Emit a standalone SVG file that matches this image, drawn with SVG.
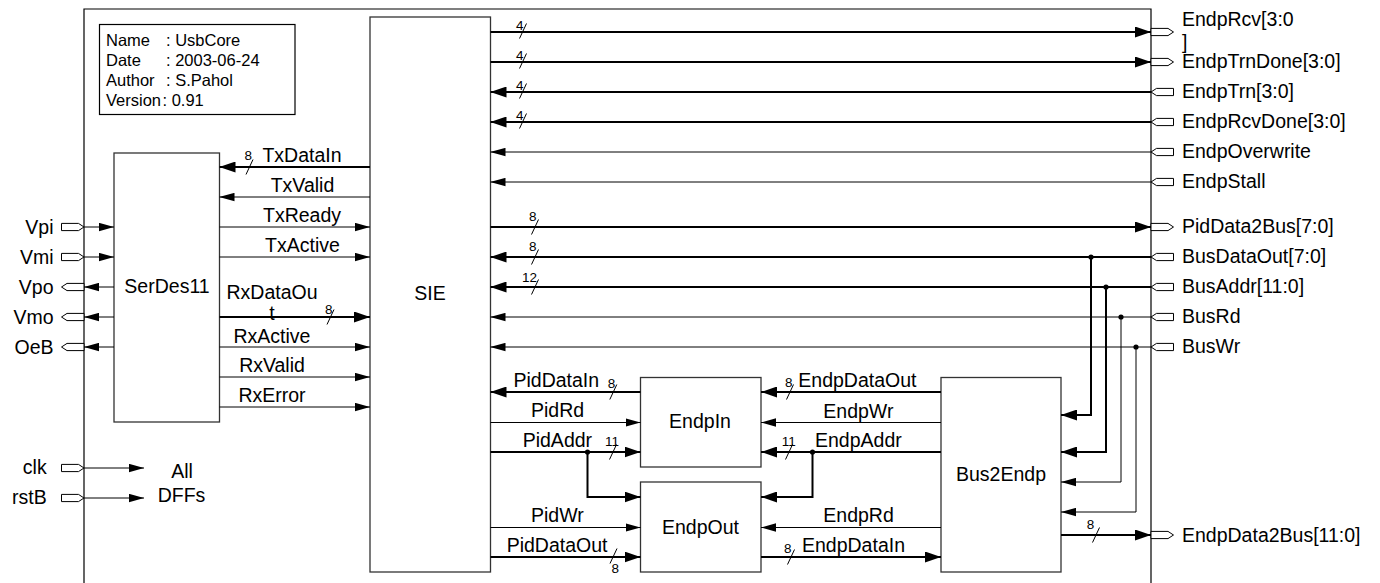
<svg xmlns="http://www.w3.org/2000/svg" width="1380" height="583" viewBox="0 0 1380 583">
<defs>
<marker id="ab" markerUnits="userSpaceOnUse" markerWidth="16" markerHeight="11" refX="16" refY="5.5" orient="auto"><path d="M0,0 L16,5.5 L0,11 Z" fill="#000"/></marker>
<marker id="as" markerUnits="userSpaceOnUse" markerWidth="15" markerHeight="9" refX="15" refY="4.5" orient="auto"><path d="M0,0.3 L15,4.5 L0,8.7 Z" fill="#000"/></marker>
<path id="pout" d="M0,-3.6 H17 L22.5,0 L17,3.6 H0 Z"/>
<path id="pin" d="M0,0 L5.5,-3.6 H22.5 V3.6 H5.5 Z"/>
<path id="sl" d="M-3.5,7.5 L3.5,-7.5"/>
</defs>
<style>
text{font-family:"Liberation Sans",Arial,sans-serif;font-size:19.5px;fill:#000}
.info text{font-size:16.5px}
text.n{font-size:13.5px}
.c{text-anchor:middle}
.e{text-anchor:end}
.box{fill:#fff;stroke:#333;stroke-width:1.3}
.bus{fill:none;stroke:#000;stroke-width:2}
.sig{fill:none;stroke:#000;stroke-width:1}
.ab{marker-end:url(#ab)}
.as{marker-end:url(#as)}
.port{fill:#fff;stroke:#000;stroke-width:1}
.sl{stroke:#000;stroke-width:1;fill:none}
.dot{fill:#000}
</style>
<rect width="1380" height="583" fill="#fff"/>

<g id="frame"><path d="M84,590 V9 H1151 V590" fill="none" stroke="#000" stroke-width="1.2"/></g>

<g id="info" class="info">
<rect x="99.5" y="24.5" width="195.5" height="90" fill="#fff" stroke="#000" stroke-width="1.2"/>
<text x="106" y="45.5">Name</text><text x="166" y="45.5">: UsbCore</text>
<text x="106" y="65.5">Date</text><text x="166" y="65.5">: 2003-06-24</text>
<text x="106" y="85.5">Author</text><text x="166" y="85.5">: S.Pahol</text>
<text x="106" y="105.5">Version</text><text x="162.5" y="105.5">: 0.91</text>
</g>

<g id="SerDes11"><rect class="box" x="114" y="153" width="105.5" height="269"/><text class="c" x="167" y="293">SerDes11</text></g>
<g id="SIE"><rect class="box" x="370" y="17" width="120.5" height="555"/><text class="c" x="430" y="300">SIE</text></g>
<g id="EndpIn"><rect class="box" x="640.5" y="377.5" width="120.5" height="89.5"/><text class="c" x="700" y="427.5">EndpIn</text></g>
<g id="EndpOut"><rect class="box" x="640.5" y="482" width="120.5" height="90"/><text class="c" x="700.5" y="533.5">EndpOut</text></g>
<g id="Bus2Endp"><rect class="box" x="941" y="377.5" width="120" height="194.5"/><text class="c" x="1001" y="481">Bus2Endp</text></g>
<g id="AllDFFs"><text class="c" x="182" y="478">All<tspan x="181.5" y="502">DFFs</tspan></text></g>

<g id="ports">
<g id="p-Vpi"><use href="#pout" x="61.5" y="227" class="port"/><text class="e" x="53.5" y="233.5">Vpi</text></g>
<g id="p-Vmi"><use href="#pout" x="61.5" y="257" class="port"/><text class="e" x="53.5" y="263.5">Vmi</text></g>
<g id="p-Vpo"><use href="#pin" x="61.5" y="287" class="port"/><text class="e" x="53.5" y="293.5">Vpo</text></g>
<g id="p-Vmo"><use href="#pin" x="61.5" y="317" class="port"/><text class="e" x="53.5" y="323.5">Vmo</text></g>
<g id="p-OeB"><use href="#pin" x="61.5" y="347" class="port"/><text class="e" x="53.5" y="353.5">OeB</text></g>
<g id="p-clk"><use href="#pout" x="61.5" y="468" class="port"/><text class="e" x="46.7" y="474">clk</text></g>
<g id="p-rstB"><use href="#pout" x="61.5" y="498" class="port"/><text class="e" x="46.7" y="504">rstB</text></g>
<g id="p-EndpRcv"><use href="#pout" x="1151" y="32" class="port"/><text x="1182" y="26">EndpRcv[3:0<tspan x="1182" y="49">]</tspan></text></g>
<g id="p-EndpTrnDone"><use href="#pout" x="1151" y="62" class="port"/><text x="1182" y="68.3">EndpTrnDone[3:0]</text></g>
<g id="p-EndpTrn"><use href="#pin" x="1151" y="92" class="port"/><text x="1182" y="98.3">EndpTrn[3:0]</text></g>
<g id="p-EndpRcvDone"><use href="#pin" x="1151" y="122" class="port"/><text x="1182" y="128.3">EndpRcvDone[3:0]</text></g>
<g id="p-EndpOverwrite"><use href="#pin" x="1151" y="152" class="port"/><text x="1182" y="158.3">EndpOverwrite</text></g>
<g id="p-EndpStall"><use href="#pin" x="1151" y="182" class="port"/><text x="1182" y="188.3">EndpStall</text></g>
<g id="p-PidData2Bus"><use href="#pout" x="1151" y="227" class="port"/><text x="1182" y="233.3">PidData2Bus[7:0]</text></g>
<g id="p-BusDataOut"><use href="#pin" x="1151" y="257" class="port"/><text x="1182" y="263.3">BusDataOut[7:0]</text></g>
<g id="p-BusAddr"><use href="#pin" x="1151" y="287" class="port"/><text x="1182" y="293.3">BusAddr[11:0]</text></g>
<g id="p-BusRd"><use href="#pin" x="1151" y="317" class="port"/><text x="1182" y="323.3">BusRd</text></g>
<g id="p-BusWr"><use href="#pin" x="1151" y="347" class="port"/><text x="1182" y="353.3">BusWr</text></g>
<g id="p-EndpData2Bus"><use href="#pout" x="1151" y="535" class="port"/><text x="1182" y="541.5">EndpData2Bus[11:0]</text></g>
</g>

<g id="connectors">
<path class="sig as" d="M84,227 H114"/>
<path class="sig as" d="M84,257 H114"/>
<path class="sig as" d="M114,287 H84"/>
<path class="sig as" d="M114,317 H84"/>
<path class="sig as" d="M114,347 H84"/>
<path class="sig as" d="M84,468 H144"/>
<path class="sig as" d="M84,498 H144"/>

<path class="bus ab" d="M490.5,32 H1151"/><use href="#sl" x="523" y="31" class="sl"/><text class="n" x="516" y="30">4</text>
<path class="bus ab" d="M490.5,62 H1151"/><use href="#sl" x="523" y="61" class="sl"/><text class="n" x="516" y="60">4</text>
<path class="bus ab" d="M1151,92 H490.5"/><use href="#sl" x="523" y="91" class="sl"/><text class="n" x="516" y="90">4</text>
<path class="bus ab" d="M1151,122 H490.5"/><use href="#sl" x="523" y="121" class="sl"/><text class="n" x="516" y="120">4</text>
<path class="sig as" d="M1151,152 H490.5"/>
<path class="sig as" d="M1151,182 H490.5"/>
<path class="bus ab" d="M490.5,227 H1151"/><use href="#sl" x="535" y="227" class="sl"/><text class="n" x="529" y="220.7">8</text>
<path class="bus ab" d="M1151,257 H490.5"/><use href="#sl" x="535" y="257" class="sl"/><text class="n" x="529" y="250.7">8</text>
<path class="bus ab" d="M1151,287 H490.5"/><use href="#sl" x="535" y="287" class="sl"/><text class="n" x="522" y="281.7">12</text>
<path class="sig as" d="M1151,317 H490.5"/>
<path class="sig as" d="M1151,347 H490.5"/>

<path class="bus ab" d="M1091,257 V415 H1061"/><circle class="dot" cx="1091" cy="257" r="2.6"/>
<path class="bus ab" d="M1106,287 V452 H1061"/><circle class="dot" cx="1106" cy="287" r="2.6"/>
<path class="sig as" d="M1121,317 V482 H1061"/><circle class="dot" cx="1121" cy="317" r="2.6"/>
<path class="sig as" d="M1136,347 V512 H1061"/><circle class="dot" cx="1136" cy="347" r="2.6"/>
<path class="bus ab" d="M1061,535 H1151"/><use href="#sl" x="1096" y="535" class="sl"/><text class="n" x="1086.7" y="528.7">8</text>

<path class="bus ab" d="M370,167 H219.5"/><use href="#sl" x="249.5" y="167" class="sl"/><text class="n" x="244.5" y="160">8</text><text class="c" x="302" y="162">TxDataIn</text>
<path class="sig as" d="M370,197 H219.5"/><text class="c" x="302.5" y="192">TxValid</text>
<path class="sig as" d="M219.5,227 H370"/><text class="c" x="302" y="222">TxReady</text>
<path class="sig as" d="M219.5,257 H370"/><text class="c" x="302.5" y="252">TxActive</text>
<path class="bus ab" d="M219.5,317 H370"/><use href="#sl" x="330.5" y="317" class="sl"/><text class="n" x="325" y="314">8</text><text class="c" x="272" y="299">RxDataOu<tspan x="272" y="320">t</tspan></text>
<path class="sig as" d="M219.5,347 H370"/><text class="c" x="272" y="342.8">RxActive</text>
<path class="sig as" d="M219.5,377 H370"/><text class="c" x="272" y="372">RxValid</text>
<path class="sig as" d="M219.5,407 H370"/><text class="c" x="272" y="401.5">RxError</text>

<path class="bus ab" d="M640.5,392 H490.5"/><use href="#sl" x="613.3" y="392" class="sl"/><text class="n" x="607.7" y="388">8</text><text x="513.5" y="386.5">PidDataIn</text>
<path class="sig as" d="M490.5,422.5 H640.5"/><text x="531" y="417">PidRd</text>
<path class="bus ab" d="M490.5,452 H640.5"/><use href="#sl" x="613" y="452" class="sl"/><text class="n" x="605" y="446">11</text><text x="522.7" y="446.5">PidAddr</text>
<path class="bus ab" d="M587.5,452 V497 H640.5"/><circle class="dot" cx="587.5" cy="452" r="2.6"/>
<path class="sig as" d="M490.5,527.5 H640.5"/><text x="531" y="521.5">PidWr</text>
<path class="bus ab" d="M490.5,557 H640.5"/><use href="#sl" x="613.5" y="556" class="sl"/><text class="n" x="611.5" y="573">8</text><text x="506.7" y="551.5">PidDataOut</text>

<path class="bus ab" d="M941,392 H761"/><use href="#sl" x="790" y="392" class="sl"/><text class="n" x="785" y="386.7">8</text><text x="798.3" y="386.7">EndpDataOut</text>
<path class="sig as" d="M941,422.5 H761"/><text x="823.3" y="417.5">EndpWr</text>
<path class="bus ab" d="M941,452 H761"/><use href="#sl" x="789" y="452" class="sl"/><text class="n" x="781.7" y="446">11</text><text x="815" y="446.7">EndpAddr</text>
<path class="bus ab" d="M812.5,452 V497 H761"/><circle class="dot" cx="812.5" cy="452" r="2.6"/>
<path class="sig as" d="M941,527.5 H761"/><text x="823.3" y="521.7">EndpRd</text>
<path class="bus ab" d="M761,557 H941"/><use href="#sl" x="791" y="557" class="sl"/><text class="n" x="784" y="553">8</text><text x="802" y="551.7">EndpDataIn</text>
</g>
</svg>
